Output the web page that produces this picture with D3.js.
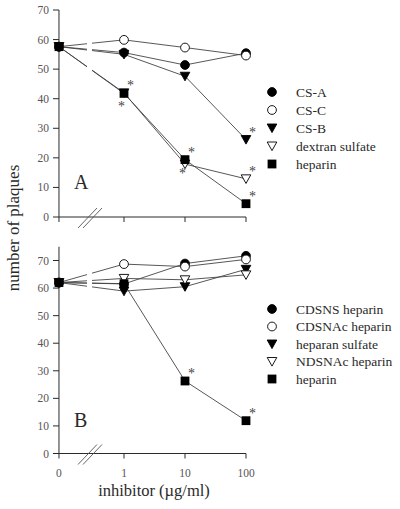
<!DOCTYPE html>
<html><head><meta charset="utf-8">
<script src="https://cdn.jsdelivr.net/npm/d3@7"></script>
<style>body{margin:0;background:#fff}svg{display:block}text{font-family:"Liberation Serif","Times New Roman",serif}</style>
</head><body><svg id="c" width="400" height="509"></svg>
<script>
// ---- data ----
const doses = [0, 1, 10, 100];
const doseLabels = ["0", "1", "10", "100"];
const yTicksA = [0, 10, 20, 30, 40, 50, 60, 70];
const yTicksB = [0, 10, 20, 30, 40, 50, 60, 70];

const namesA = ["CS-A", "CS-C", "CS-B", "dextran sulfate", "heparin"];
const csA      = [57.6, 55.6, 51.4, 55.4];
const csC      = [57.6, 59.9, 57.3, 54.6];
const csB      = [57.6, 55.0, 47.6, 26.2];
const dextran  = [57.6, 42.0, 17.9, 12.9];
const heparinA = [57.6, 41.8, 19.4, 4.5];
const starsA = [ // [series index, dose index, side]
  [4, 1, "above"], [4, 1, "below"], [4, 2, "above"], [4, 2, "below"],
  [2, 3, "above"], [3, 3, "above"], [4, 3, "above"]];

const namesB = ["CDSNS heparin", "CDSNAc heparin", "heparan sulfate", "NDSNAc heparin", "heparin"];
const cdsns    = [62.0, 61.5, 68.9, 71.7];
const cdsnac   = [62.0, 68.7, 67.8, 70.4];
const heparanS = [62.0, 58.9, 60.5, 66.8];
const ndsnac   = [62.0, 63.5, 63.0, 64.8];
const heparinB = [62.0, 61.6, 26.3, 11.9];
const starsB = [[4, 2, "above"], [4, 3, "above"]];

const symbols = ["fcircle", "ocircle", "ftri", "otri", "fsquare"];

// ---- layout ----
const svg = d3.select("#c");
const ink = "#2a2a2a", lineCol = "#444", tickCol = "#555";
const xLog = d3.scaleLinear().domain([0, 2]).range([124, 246]);
const ZERO_POS = -1.066;
const xOf = v => v === 0 ? xLog(ZERO_POS) : xLog(Math.log10(v));
const gapL = 87, gapR = 92;

svg.append("defs").append("clipPath").attr("id", "gap")
  .call(cp => { cp.append("rect").attr("x", 0).attr("y", 0).attr("width", gapL).attr("height", 509);
                cp.append("rect").attr("x", gapR).attr("y", 0).attr("width", 400 - gapR).attr("height", 509); });

function marker(g, type, x, y) {
  const fill = type[0] === "f" ? "#000" : "#fff";
  if (type.endsWith("circle")) {
    g.append("circle").attr("cx", x).attr("cy", y).attr("r", 4.4)
      .attr("fill", fill).attr("stroke", "#000").attr("stroke-width", 0.9);
  } else if (type.endsWith("tri")) {
    g.append("path").attr("d", `M${x-4.8},${y-4}L${x+4.8},${y-4}L${x},${y+4.6}Z`)
      .attr("fill", fill).attr("stroke", "#000").attr("stroke-width", 0.9);
  } else {
    g.append("rect").attr("x", x - 4.4).attr("y", y - 4.4).attr("width", 8.8).attr("height", 8.8).attr("fill", "#000");
  }
}

function panel(opts) {
  const y = d3.scaleLinear().domain([0, 70]).range([opts.y0, opts.y70]);
  const g = svg.append("g");
  // y axis
  g.append("line").attr("x1", xOf(0)).attr("x2", xOf(0)).attr("y1", y(opts.ymax)).attr("y2", y(0) + 5)
    .attr("stroke", ink).attr("stroke-width", 1);
  opts.ticks.forEach(t => {
    g.append("line").attr("x1", xOf(0) - 6).attr("x2", xOf(0)).attr("y1", y(t)).attr("y2", y(t)).attr("stroke", ink);
    g.append("text").attr("x", xOf(0) - 10).attr("y", y(t) + 4).attr("text-anchor", "end")
      .attr("font-size", 11.5).attr("fill", tickCol).text(t);
  });
  // x axis
  g.append("line").attr("x1", xOf(0)).attr("x2", xOf(100)).attr("y1", y(0)).attr("y2", y(0))
    .attr("stroke", ink).attr("stroke-width", 1);
  doses.slice(1).forEach(d => g.append("line").attr("x1", xOf(d)).attr("x2", xOf(d))
    .attr("y1", y(0)).attr("y2", y(0) + 5).attr("stroke", ink));
  // break marks
  [0, 5].forEach(o => g.append("line").attr("x1", 78 + o).attr("y1", y(0) + 11)
    .attr("x2", 97 + o).attr("y2", y(0) - 9).attr("stroke", "#555").attr("stroke-width", 0.9));
  if (opts.showXLabels) {
    doses.forEach((d, i) => g.append("text").attr("x", xOf(d)).attr("y", y(0) + 23)
      .attr("text-anchor", "middle").attr("font-size", 11.5).attr("fill", tickCol).text(doseLabels[i]));
  }
  // lines
  const line = d3.line().x((v, i) => xOf(doses[i])).y(v => y(v));
  const lg = g.append("g").attr("clip-path", "url(#gap)");
  opts.series.forEach(s => lg.append("path").attr("d", line(s)).attr("fill", "none")
    .attr("stroke", lineCol).attr("stroke-width", 0.9));
  // markers
  opts.series.forEach((s, k) => s.forEach((v, i) => marker(g, symbols[k], xOf(doses[i]), y(v))));
  // asterisks
  opts.stars.forEach(([k, i, side]) => {
    const v = opts.series[k][i];
    const px = xOf(doses[i]) + (side === "above" ? 3 : -6);
    const py = y(v) + (side === "above" ? -3 : 18);
    g.append("text").attr("x", px).attr("y", py).attr("font-size", 14).attr("fill", "#444").text("*");
  });
  // panel letter
  g.append("text").attr("x", 74).attr("y", y(opts.letterY)).attr("font-size", 20).attr("fill", ink).text(opts.letter);
  // legend
  opts.names.forEach((n, k) => {
    const ly = opts.legY + k * opts.legStep;
    marker(g, symbols[k], 272, ly);
    g.append("text").attr("x", 296).attr("y", ly + 4.5).attr("font-size", 13.5).attr("fill", ink).text(n);
  });
}

panel({ y0: 217, y70: 10, ymax: 70, ticks: yTicksA, series: [csA, csC, csB, dextran, heparinA],
  names: namesA, stars: starsA, letter: "A", letterY: 9.5, legY: 92, legStep: 18, showXLabels: false });
panel({ y0: 453.5, y70: 260.5, ymax: 75, ticks: yTicksB, series: [cdsns, cdsnac, heparanS, ndsnac, heparinB],
  names: namesB, stars: starsB, letter: "B", letterY: 9.5, legY: 309, legStep: 17.5, showXLabels: true });

// axis titles
svg.append("text").attr("transform", "translate(19,228) rotate(-90)").attr("text-anchor", "middle")
  .attr("font-size", 17).attr("fill", ink).text("number of plaques");
svg.append("text").attr("x", 154).attr("y", 496).attr("text-anchor", "middle")
  .attr("font-size", 16.5).attr("fill", ink).text("inhibitor (µg/ml)");
</script></body></html>
